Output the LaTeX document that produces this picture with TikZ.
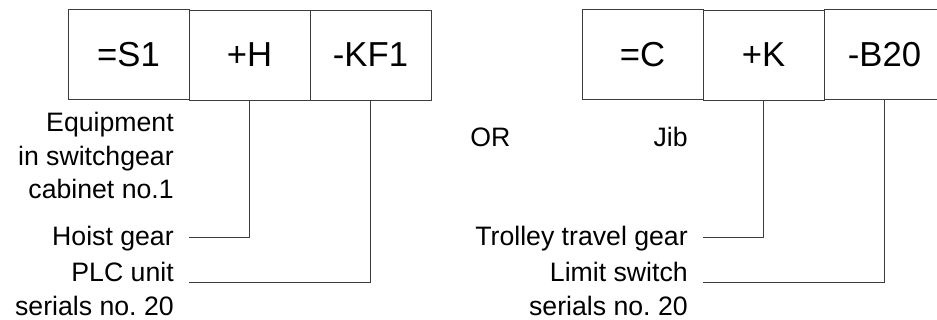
\documentclass[tikz,border=0pt]{standalone}
\usepackage{fontspec}
\setmainfont{Liberation Sans}
\frenchspacing
\usetikzlibrary{matrix,positioning}
\definecolor{linegray}{RGB}{60,60,60}
\tikzset{
  tag/.style={draw=linegray, line width=0.75pt, minimum width=90.75pt, minimum height=67.5pt, inner sep=0pt, font=\fontsize{26}{30}\selectfont},
  lbl/.style={inner sep=0pt, align=right, font=\fontsize{20}{25.3}\selectfont},
  lead/.style={draw=linegray, line width=0.75pt}
}

\begin{document}
\begin{tikzpicture}[x=0.75pt,y=-0.75pt]
\useasboundingbox (0,0) rectangle (937,320);
\clip (0,0) rectangle (937,320);

\matrix (lft) [matrix of nodes, nodes={tag}, column sep=-0.75pt] at (249.5,55) {
=S1 & +H & -KF1 \\
};
\matrix (rgt) [matrix of nodes, nodes={tag}, column sep=-0.75pt] at (763.5,55) {
=C & +K & -B20 \\
};

% labels, base = last line
\node[lbl, anchor=base east] (equip) at (174,199) {Equipment\\in switchgear\\cabinet no.1};
\node[lbl, anchor=base east] (hoist) at (174,245) {Hoist gear};
\node[lbl, anchor=base east] (plc) at (174,315) {PLC unit\\serials no. 20};

\node[lbl, anchor=base west] (orword) at (470,146.7) {OR};
\node[lbl, anchor=base east] (jib) at (688,146.7) {Jib};
\node[lbl, anchor=base east] (trolley) at (688,245) {Trolley travel gear};
\node[lbl, anchor=base east] (limit) at (688,315) {Limit switch\\serials no. 20};

\coordinate (hoistend) at (189,237);
\coordinate (plcend) at (189,282);
\coordinate (trolleyend) at (703,237);
\coordinate (limitend) at (703,282);

\draw[lead] (lft-1-2.south) |- (hoistend);
\draw[lead] (lft-1-3.south) |- (plcend);
\draw[lead] (rgt-1-2.south) |- (trolleyend);
\draw[lead] (rgt-1-3.south) |- (limitend);

\end{tikzpicture}
\end{document}
